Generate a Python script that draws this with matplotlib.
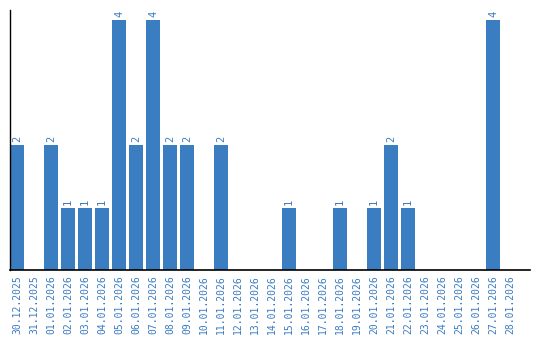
import matplotlib
matplotlib.use("Agg")
import matplotlib.pyplot as plt

dates = [
    "30.12.2025", "31.12.2025", "01.01.2026", "02.01.2026", "03.01.2026",
    "04.01.2026", "05.01.2026", "06.01.2026", "07.01.2026", "08.01.2026",
    "09.01.2026", "10.01.2026", "11.01.2026", "12.01.2026", "13.01.2026",
    "14.01.2026", "15.01.2026", "16.01.2026", "17.01.2026", "18.01.2026",
    "19.01.2026", "20.01.2026", "21.01.2026", "22.01.2026", "23.01.2026",
    "24.01.2026", "25.01.2026", "26.01.2026", "27.01.2026", "28.01.2026",
]
counts = [2, 0, 2, 1, 1, 1, 4, 2, 4, 2, 2, 0, 2, 0, 0, 0, 1, 0, 0, 1,
          0, 1, 2, 1, 0, 0, 0, 0, 4, 0]

bar_color = "#3b7dc1"
text_color = "#3a7bbf"

fig = plt.figure(figsize=(5.4, 3.4), dpi=100)
ax = fig.add_axes([10 / 540, 70 / 340, 520 / 540, 260 / 340])

x = list(range(len(dates)))
ax.bar(x, counts, width=14 / 17, color=bar_color)

# value labels above non-empty bars
for xi, v in zip(x, counts):
    if v > 0:
        ax.annotate(str(v), (xi, v), xytext=(0, 2), textcoords="offset points",
                    rotation=90, ha="center", va="bottom", fontsize=7.5,
                    family="DejaVu Sans Mono", color=text_color)

ax.set_xlim(-7 / 17, 30.18)
ax.set_ylim(0, 4.16)
ax.set_xticks(x)
ax.set_xticklabels(dates, rotation=90, fontsize=7, family="DejaVu Sans Mono",
                   color=text_color)
ax.tick_params(axis="x", length=0, pad=4)
ax.set_yticks([])
for side in ["top", "right"]:
    ax.spines[side].set_visible(False)
ax.spines["left"].set_linewidth(1)
ax.spines["bottom"].set_linewidth(1.2)

fig.savefig("out.png", dpi=100)
